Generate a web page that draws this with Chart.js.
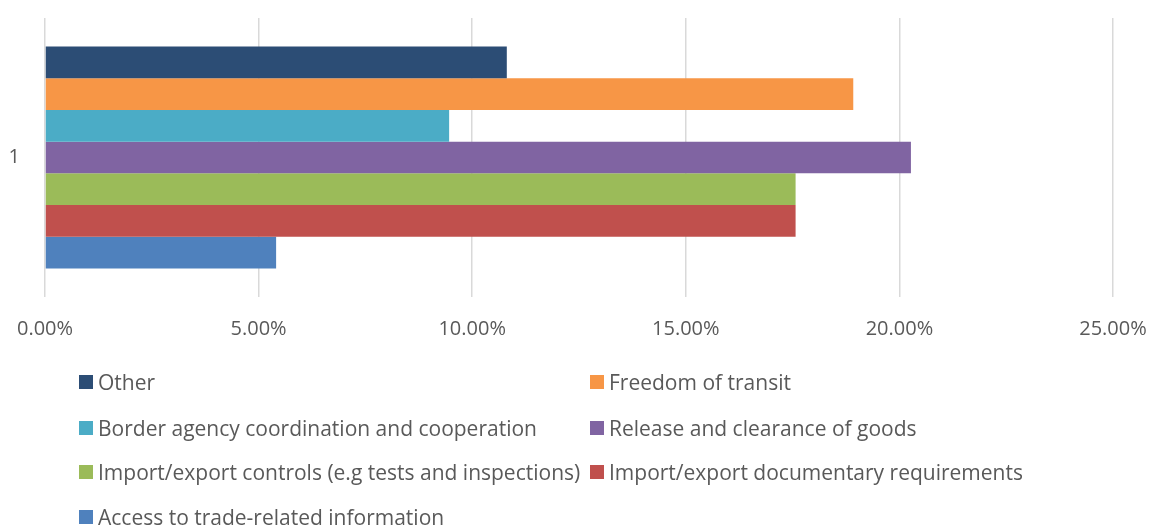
<!DOCTYPE html>
<html>
<head>
<meta charset="utf-8">
<script src="https://cdn.jsdelivr.net/npm/chart.js@4"></script>
<style>
  html, body { margin: 0; padding: 0; background: #fff; }
  #wrap { position: relative; width: 1149px; height: 525px; }
  #legend { position: absolute; left: 0; top: 0; width: 1149px; height: 525px; pointer-events: none;
            font-family: "Open Sans", sans-serif; font-size: 21px; color: #595959; }
  .item { position: absolute; white-space: nowrap; height: 30px; display: flex; align-items: center; }
  .box { display: inline-block; width: 14px; height: 14px; margin-right: 5px; }
</style>
</head>
<body>
<div id="wrap">
  <canvas id="chart" width="1149" height="525"></canvas>
  <div id="legend"></div>
</div>
<script>
// categories and series
const categories = ["1"];
const seriesNames = [
    "Other",
    "Freedom of transit",
    "Border agency coordination and cooperation",
    "Release and clearance of goods",
    "Import/export controls (e.g tests and inspections)",
    "Import/export documentary requirements",
    "Access to trade-related information"
];
const seriesValues = [10.81, 18.92, 9.46, 20.27, 17.57, 17.57, 5.41];
const seriesColors = ["#2c4d75", "#f79646", "#4bacc6", "#8064a2", "#9bbb59", "#c0504d", "#4f81bd"];
const xTicks = [0, 5, 10, 15, 20, 25];

const datasets = seriesNames.map((name, i) => ({
    label: name,
    data: [seriesValues[i]],
    backgroundColor: seriesColors[i],
    borderWidth: 0,
    barPercentage: 1,
    categoryPercentage: 0.795
}));

const ctx = document.getElementById("chart").getContext("2d");
new Chart(ctx, {
    type: "bar",
    data: { labels: categories, datasets: datasets },
    options: {
        indexAxis: "y",
        responsive: false,
        animation: false,
        layout: { padding: { top: 18, right: 36, bottom: 178, left: 0 } },
        plugins: { legend: { display: false }, tooltip: { enabled: false } },
        scales: {
            x: {
                min: 0,
                max: 25,
                afterBuildTicks: axis => { axis.ticks = xTicks.map(v => ({ value: v })); },
                afterFit: axis => {
                    axis.height = 50;
                    axis.paddingLeft = 0;
                    axis.paddingRight = 0;
                },
                border: { display: false },
                grid: { color: "#d9d9d9", lineWidth: 1.5, drawTicks: false },
                ticks: {
                    padding: 20,
                    color: "#595959",
                    font: { family: "Open Sans", size: 20 },
                    callback: v => v.toFixed(2) + "%"
                }
            },
            y: {
                afterFit: axis => {
                    axis.width = 45;
                    axis.paddingTop = 0;
                    axis.paddingBottom = 0;
                },
                border: { display: false },
                grid: { display: false, drawTicks: false },
                ticks: {
                    padding: 25,
                    color: "#595959",
                    font: { family: "Open Sans", size: 20 }
                }
            }
        }
    }
});

// legend in two columns, like the reference
const legend = document.getElementById("legend");
const colX = [79, 590];
const rowY = [382, 428, 472, 517];
seriesNames.forEach((name, i) => {
    const item = document.createElement("div");
    item.className = "item";
    item.style.left = colX[i % 2] + "px";
    item.style.top = (rowY[Math.floor(i / 2)] - 15) + "px";
    item.innerHTML = `<span class="box" style="background:${seriesColors[i]}"></span><span>${name}</span>`;
    legend.appendChild(item);
});
</script>
</body>
</html>
